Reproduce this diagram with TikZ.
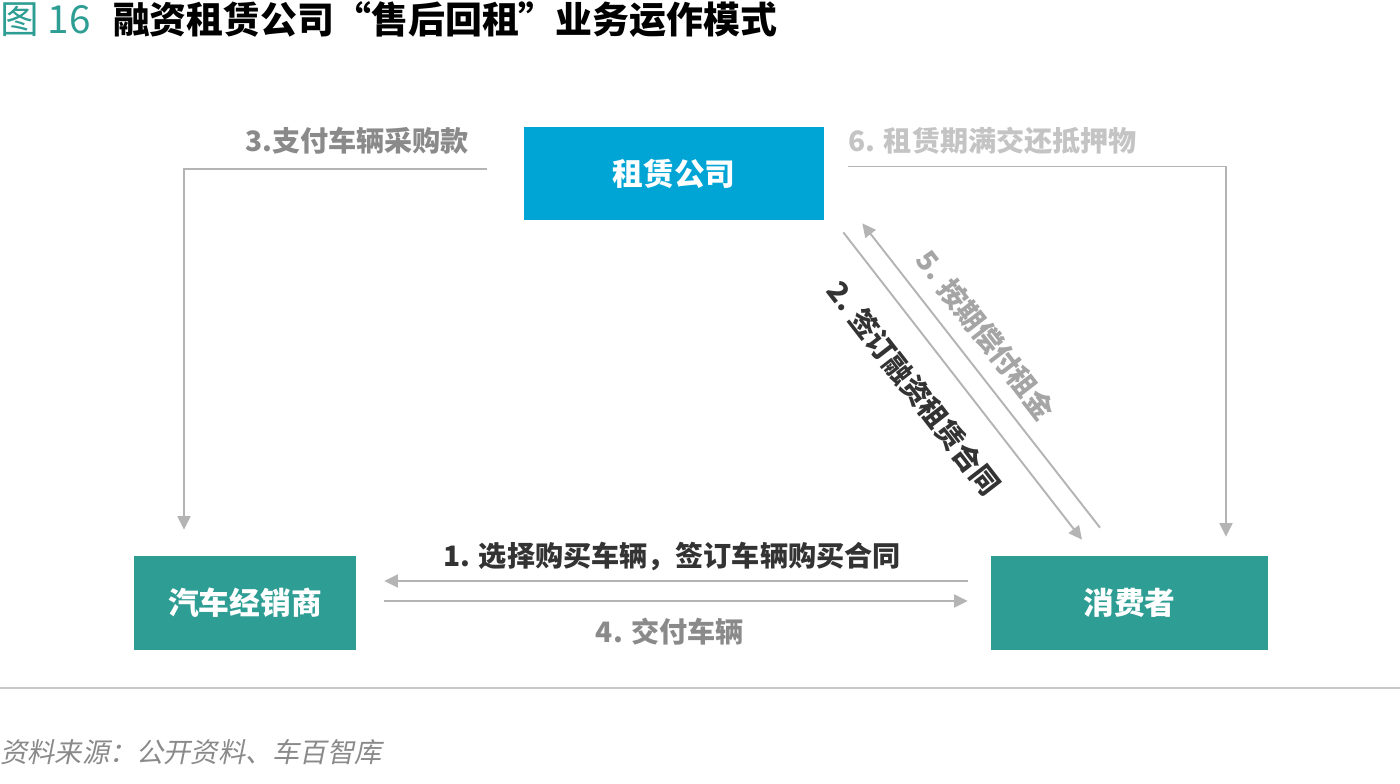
\documentclass[tikz,border=0pt]{standalone}
\usepackage{fontspec}
\setmainfont{Noto Sans CJK SC}
\newfontfamily\srcfont[FakeSlant=0.2]{Noto Sans CJK SC}
\usetikzlibrary{calc,arrows.meta}

\definecolor{leaseblue}{HTML}{00A5D5}
\definecolor{dealteal}{HTML}{2E9D93}
\definecolor{flowgray}{HTML}{B4B4B4}
\definecolor{darktext}{HTML}{333333}
\definecolor{midtext}{HTML}{8A8A8A}
\definecolor{softtext}{HTML}{A5A5A5}
\definecolor{palettext}{HTML}{C4C4C4}
\definecolor{sepgray}{HTML}{C8C8C8}

\begin{document}
\begin{tikzpicture}[x=0.02cm, y=-0.02cm,
  party/.style={fill=#1, text=white, inner sep=0,
    font=\bfseries\fontsize{17.5}{20}\selectfont},
  flow/.style={draw=flowgray, line width=1.1pt,
    -{Triangle[length=0.27cm,width=0.26cm]}},
  tag/.style={font=\bfseries\fontsize{16}{18}\selectfont, inner sep=0}]
  \useasboundingbox (0,0) rectangle (1400,784);

  % Title
  \node[anchor=west, inner sep=0, font=\bfseries\fontsize{21}{24}\selectfont] (title) at (0,20)
    {\textcolor{dealteal}{\mdseries\fontsize{22}{24}\selectfont 图 16}\hspace{0.45cm}融资租赁公司“售后回租”业务运作模式};

  % Parties
  \node[party=leaseblue, minimum width=6cm, minimum height=1.86cm] (lease) at (674,173.5) {租赁公司};
  \node[party=dealteal, minimum width=4.44cm, minimum height=1.88cm] (dealer) at (245,603) {汽车经销商};
  \node[party=dealteal, minimum width=5.54cm, minimum height=1.88cm] (buyer) at (1129.5,603) {消费者};

  % 3: lease company pays the dealer
  \draw[flow] ($(lease.west)+(-37,-4.5)$) -| ($(dealer.north)+(-61,-26)$);
  \node[tag, text=midtext] (t3) at (357,141) {3.支付车辆采购款};

  % 6: collateral returned at end of lease
  \draw[flow] ($(lease.east)+(24,-7)$) -| ($(buyer.north)+(96.5,-19)$);
  \node[tag, text=palettext, anchor=west] (t6) at (848,141) {6. 租赁期满交还抵押物};

  % 1 and 4: buyer <-> dealer
  \draw[flow] ($(buyer.west)+(-23,-22)$) -- ($(dealer.east)+(28,-22)$);
  \node[tag, text=darktext] (t1) at (672,556) {1. 选择购买车辆，签订车辆购买合同};
  \draw[flow] ($(dealer.east)+(28,-2)$) -- ($(buyer.west)+(-23,-2)$);
  \node[tag, text=midtext] (t4) at (670,632) {4. 交付车辆};

  % 2 and 5: lease company <-> buyer
  \draw[flow] ($(lease.south east)+(19,12)$) -- ($(buyer.north)+(-47.5,-16)$);
  \node[tag, text=darktext, rotate=-52.2] (t2) at (914,388) {2. 签订融资租赁合同};
  \draw[flow] ($(buyer.north)+(-29.5,-28)$) -- ($(lease.south east)+(38,3)$);
  \node[tag, text=softtext, rotate=-52.2] (t5) at (986,335) {5. 按期偿付租金};

  % Source line
  \draw[line width=1pt, draw=sepgray] (0,688) -- (1400,688);
  \node[anchor=west, inner sep=0, text=midtext, font=\srcfont\fontsize{15.5}{18}\selectfont] (src) at (0,752)
    {资料来源：公开资料、车百智库};
\end{tikzpicture}
\end{document}
